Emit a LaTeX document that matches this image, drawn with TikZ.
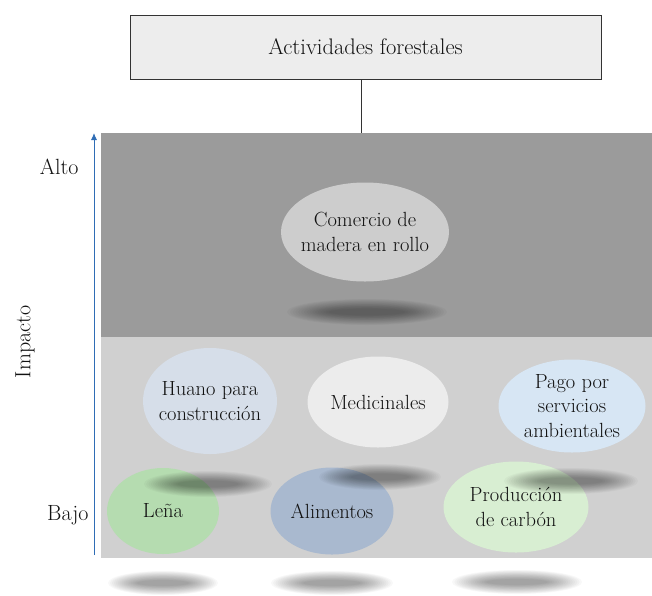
\documentclass[tikz,border=0pt]{standalone}
\usetikzlibrary{shapes.geometric,arrows.meta}
\definecolor{darkreg}{HTML}{9B9B9B}
\definecolor{lightreg}{HTML}{D0D0D0}
\definecolor{boxfill}{HTML}{EDEDED}
\definecolor{boxline}{HTML}{333333}
\definecolor{txt}{HTML}{111111}
\definecolor{axisblue}{HTML}{2F6DB5}
\definecolor{cComercio}{HTML}{CDCDCD}
\definecolor{cHuano}{HTML}{D6DEE9}
\definecolor{cMedic}{HTML}{ECECEC}
\definecolor{cPago}{HTML}{D7E6F4}
\definecolor{cLena}{HTML}{B5DCB0}
\definecolor{cAlim}{HTML}{A9B9CF}
\definecolor{cProd}{HTML}{D8EED2}
\newcommand\blurshadow[4]{%
  \foreach \k in {0,...,15}{%
    \fill[black,opacity=0.026] (#1,#2) ellipse ({(#3)*(1-0.035*\k)*1pt} and {(#4)*(1-0.05*\k)*1pt});
  }%
}
\tikzset{
  region/.style={rectangle,inner sep=0pt,anchor=north west,draw=none},
  ell/.style={ellipse,inner sep=0pt,draw=none},
  elltext/.style={font=\fontsize{20.5}{24.5}\selectfont,text=txt,align=center},
  axislabel/.style={font=\fontsize{22}{26}\selectfont,text=txt},
}
\begin{document}
\begin{tikzpicture}[x=1pt,y=-1pt]
\useasboundingbox (0,0) rectangle (652,595);
% regions
\node[region,fill=darkreg,minimum width=551,minimum height=204] (high) at (101,133) {};
\node[region,fill=lightreg,minimum width=551,minimum height=221] (low) at (101,337) {};
% top box
\node[draw=boxline,fill=boxfill,line width=1pt,minimum width=471,minimum height=64,inner sep=0pt,
      font=\fontsize{22.5}{26}\selectfont,text=txt] (top) at (365.5,47) {Actividades forestales};
\coordinate (lx) at (361,0);
\draw[boxline,line width=1pt] (top.south -| lx) -- (high.north -| lx);
% axis
\coordinate (axB) at (94,555);
\coordinate (axT) at (94,133);
\draw[axisblue,line width=0.9pt,-{Latex[length=7pt,width=6pt]}] (axB) -- (axT);
\node[axislabel,anchor=east] (alto) at (82,167) {Alto};
\node[axislabel,anchor=east] (bajo) at (92,515) {Bajo};
\node[axislabel,rotate=90] (impacto) at (25,342) {Impacto};
% high impact ellipse
\node[ell,fill=cComercio,minimum width=168,minimum height=99,
      label={[elltext]center:Comercio de\\madera en rollo}] (comercio) at (365,232) {};
\blurshadow{367}{312}{80}{13}
% low impact ellipses
\node[ell,fill=cHuano,minimum width=134,minimum height=106,
      label={[elltext]center:Huano para\\construcción}] (huano) at (210,401) {};
\node[ell,fill=cMedic,minimum width=141,minimum height=91,
      label={[elltext]center:Medicinales}] (medic) at (378,402) {};
\node[ell,fill=cPago,minimum width=147,minimum height=93,
      label={[elltext]center:Pago por\\servicios\\ambientales}] (pago) at (572,406) {};
\node[ell,fill=cLena,minimum width=112,minimum height=86,
      label={[elltext]center:Leña}] (lena) at (163,511) {};
\node[ell,fill=cAlim,minimum width=123,minimum height=87,
      label={[elltext]center:Alimentos}] (alim) at (332,511) {};
\node[ell,fill=cProd,minimum width=145,minimum height=91,
      label={[elltext]center:Producción\\de carbón}] (prod) at (516,507) {};
% shadows of upper row
\blurshadow{208}{484}{64}{13}
\blurshadow{380}{477}{61}{13}
\blurshadow{571}{481}{67}{13}
% shadows under the region
\blurshadow{163}{583}{55}{12}
\blurshadow{332}{583}{61}{12}
\blurshadow{517}{582}{65}{12}
\end{tikzpicture}
\end{document}
